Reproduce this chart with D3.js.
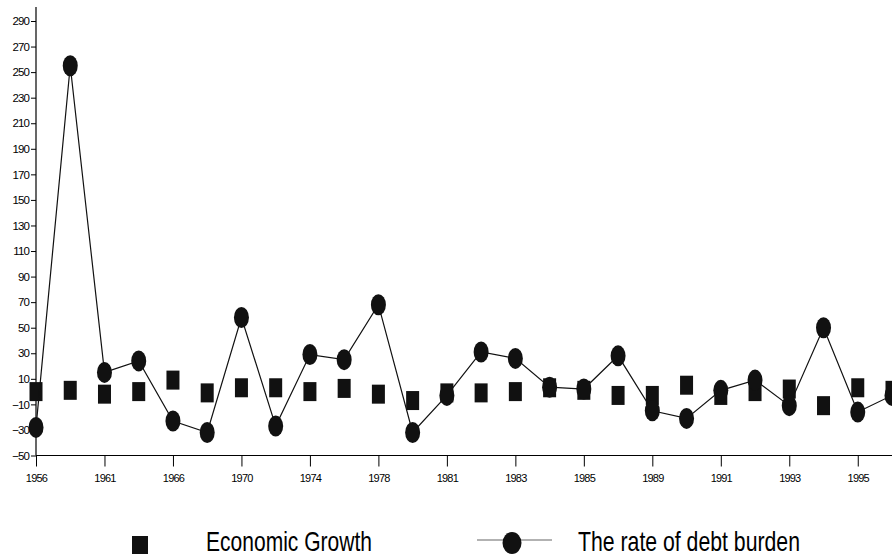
<!DOCTYPE html>
<html>
<head>
<meta charset="utf-8">
<script src="https://cdn.jsdelivr.net/npm/d3@7"></script>
<style>
  body { margin: 0; background: #fff; }
  svg { display: block; }
  .tick text { font-family: "Liberation Sans Narrow", "Arial Narrow", "Liberation Sans", Arial, sans-serif; fill: #000; }
</style>
</head>
<body>
<svg id="chart" width="892" height="556"></svg>
<script>
// years on the category axis (only every other one is labelled)
var years = ["1956","1958","1961","1963","1966","1968","1970","1972","1974","1976",
             "1978","1980","1981","1982","1983","1984","1985","1987","1989","1990",
             "1991","1992","1993","1994","1995","1996"];
var growth = [0, 1, -2, 0, 9, -1, 3, 3, 0, 2.5,
              -2, -7, -1, -1, 0, 3, 1, -3, -3, 5,
              -3, 0, 2, -11, 3, 1];
var debt = [-28, 255, 15, 24, -23, -32, 58, -27, 29, 25,
            68, -32, -3, 31, 26, 3.5, 2, 28, -15, -21,
            1, 9, -11, 50, -16, -3];
var yTicks = d3.range(-50, 291, 20);

var svg = d3.select("#chart");
var mLeft = 36, mRight = 892, mTop = 21, mBottom = 455.5;
var narrow = "\"Liberation Sans Narrow\", \"Arial Narrow\", \"Liberation Sans\", Arial, sans-serif";

var x = d3.scalePoint().domain(years).range([mLeft, mRight]);
var y = d3.scaleLinear().domain([-50, 290]).range([mBottom, mTop]);

// y axis
var yAxis = svg.append("g")
    .attr("transform", "translate(" + mLeft + ",0)")
    .call(d3.axisLeft(y).tickValues(yTicks).tickSize(5).tickPadding(2).tickSizeOuter(0));
yAxis.select(".domain").remove();
yAxis.selectAll(".tick text").attr("font-size", 11.5).attr("letter-spacing", -0.9);
svg.append("line")
    .attr("x1", mLeft).attr("x2", mLeft)
    .attr("y1", 7).attr("y2", mBottom)
    .attr("stroke", "#000").attr("stroke-width", 1.2);

// x axis
var xAxis = svg.append("g")
    .attr("transform", "translate(0," + mBottom + ")")
    .call(d3.axisBottom(x)
        .tickValues(years.filter(function(d, i) { return i % 2 === 0; }))
        .tickSize(11).tickPadding(8).tickSizeOuter(0));
xAxis.select(".domain").remove();
xAxis.selectAll(".tick text").attr("font-size", 11).attr("letter-spacing", -0.8);
svg.append("line")
    .attr("x1", mLeft).attr("x2", mRight)
    .attr("y1", mBottom).attr("y2", mBottom)
    .attr("stroke", "#000").attr("stroke-width", 1.2);

// economic growth squares
svg.append("g").selectAll("rect")
    .data(growth)
    .enter().append("rect")
    .attr("x", function(d, i) { return x(years[i]) - 6.5; })
    .attr("y", function(d) { return y(d) - 9.5; })
    .attr("width", 13)
    .attr("height", 19)
    .attr("fill", "#111");

// debt burden line + markers
var line = d3.line()
    .x(function(d, i) { return x(years[i]); })
    .y(function(d) { return y(d); });
svg.append("path")
    .datum(debt)
    .attr("d", line)
    .attr("fill", "none")
    .attr("stroke", "#111")
    .attr("stroke-width", 1.2);
svg.append("g").selectAll("ellipse")
    .data(debt)
    .enter().append("ellipse")
    .attr("cx", function(d, i) { return x(years[i]); })
    .attr("cy", function(d) { return y(d); })
    .attr("rx", 7.5)
    .attr("ry", 10.5)
    .attr("fill", "#111");

// legend
var lg = svg.append("g").attr("font-family", narrow);
lg.append("rect").attr("x", 132).attr("y", 536).attr("width", 16).attr("height", 18).attr("fill", "#111");
lg.append("text").attr("x", 206).attr("y", 551).attr("font-size", 28)
    .attr("textLength", 166).attr("lengthAdjust", "spacingAndGlyphs")
    .text("Economic Growth");
lg.append("line").attr("x1", 477).attr("x2", 552).attr("y1", 540).attr("y2", 540)
    .attr("stroke", "#666").attr("stroke-width", 1.2);
lg.append("ellipse").attr("cx", 512).attr("cy", 543).attr("rx", 9.5).attr("ry", 11).attr("fill", "#111");
lg.append("text").attr("x", 578).attr("y", 551).attr("font-size", 28)
    .attr("textLength", 222).attr("lengthAdjust", "spacingAndGlyphs")
    .text("The rate of debt burden");
</script>
</body>
</html>
